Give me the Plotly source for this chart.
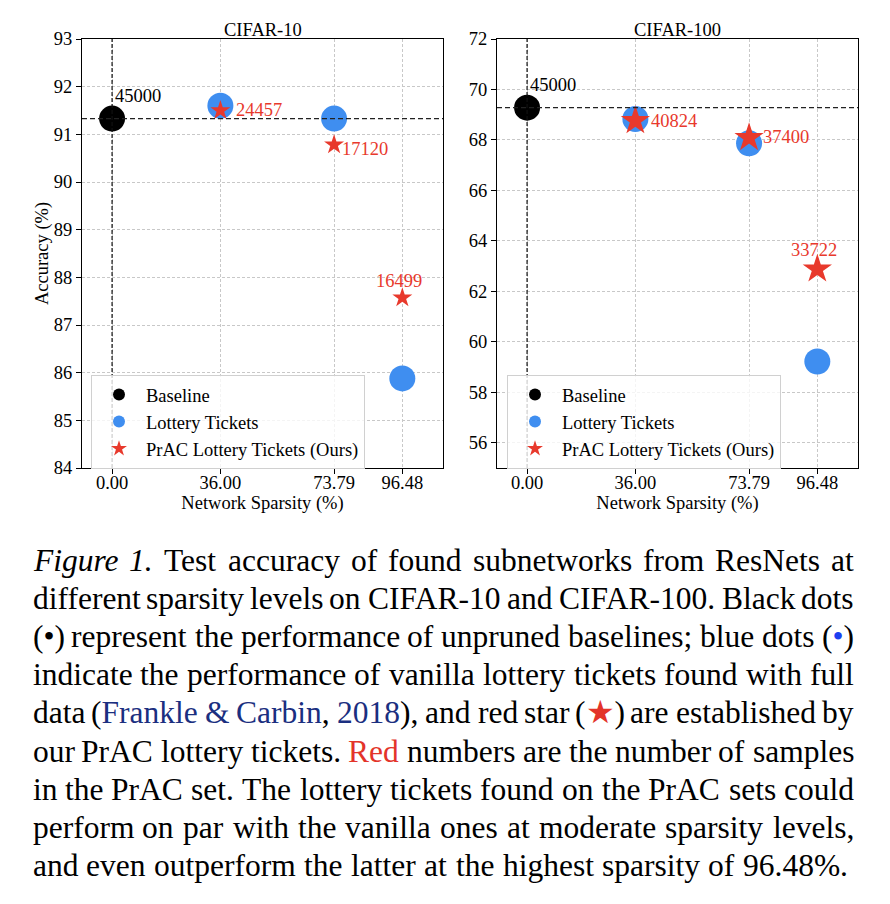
import re
import plotly.graph_objects as go

# ---------------- data ----------------
sparsity = [0.00, 36.00, 73.79, 96.48]
sparsity_labels = ["0.00", "36.00", "73.79", "96.48"]

c10_baseline_acc = 91.33
c10_baseline_samples = 45000
c10_lottery_acc = [91.60, 91.33, 85.88]
c10_prac_acc = [91.50, 90.78, 87.57]
c10_prac_samples = [24457, 17120, 16499]

c100_baseline_acc = 69.28
c100_baseline_samples = 45000
c100_lottery_acc = [68.83, 67.87, 59.22]
c100_prac_acc = [68.76, 68.09, 62.88]
c100_prac_samples = [40824, 37400, 33722]

# ---------------- style ----------------
W, H = 890, 904
FONT = "Liberation Serif"
BLACK = "#000000"
BLUE = "#3f8ef0"
RED = "#e8392c"
GRID = "#c8c8c8"
FS = 18.5

def px_x(p):
    return p / W

def px_y(p):
    return 1 - p / H

panels = [
    dict(name="CIFAR-10", xd=(82, 443), yr=(84, 93), dtick=1, star=15,
         base=c10_baseline_acc, base_n=c10_baseline_samples,
         lot=c10_lottery_acc, prac=c10_prac_acc, prac_n=c10_prac_samples,
         offs=[(14, 1, "left"), (6, -4, "left"), (-3, 17, "center")],
         legend_x=91, ytitle="Accuracy (%)"),
    dict(name="CIFAR-100", xd=(497, 858), yr=(55, 72), dtick=2, star=22,
         base=c100_baseline_acc, base_n=c100_baseline_samples,
         lot=c100_lottery_acc, prac=c100_prac_acc, prac_n=c100_prac_samples,
         offs=[(14, 0, "left"), (12, 1, "left"), (-3, 19, "center")],
         legend_x=507, ytitle=None),
]

fig = go.Figure()
layout = dict(width=W, height=H, margin=dict(l=0, r=0, t=0, b=0),
              paper_bgcolor="white", plot_bgcolor="white",
              font=dict(family=FONT, size=FS, color="black"),
              annotations=[], shapes=[])

for i, p in enumerate(panels):
    sfx = "" if i == 0 else str(i + 1)
    xa, ya = "x" + sfx, "y" + sfx
    leg = "legend" + sfx
    fig.add_trace(go.Scatter(x=[sparsity[0]], y=[p["base"]], mode="markers", name="Baseline",
                             marker=dict(color=BLACK, size=26), xaxis=xa, yaxis=ya, legend=leg))
    fig.add_trace(go.Scatter(x=sparsity[1:], y=p["lot"], mode="markers", name="Lottery Tickets",
                             marker=dict(color=BLUE, size=26), xaxis=xa, yaxis=ya, legend=leg))
    fig.add_trace(go.Scatter(x=sparsity[1:], y=p["prac"], mode="markers",
                             name="PrAC Lottery Tickets (Ours)",
                             marker=dict(color=RED, size=p["star"], symbol="star",
                                         line=dict(width=0)),
                             xaxis=xa, yaxis=ya, legend=leg))
    axis_common = dict(showline=True, linecolor="black", linewidth=1, mirror=True,
                       ticks="outside", ticklen=5, tickcolor="black",
                       showgrid=True, gridcolor=GRID, griddash="3px,2px", gridwidth=1,
                       zeroline=False, tickfont=dict(family=FONT, size=FS),
                       layer="above traces")
    layout["xaxis" + sfx] = dict(axis_common, domain=[px_x(p["xd"][0]), px_x(p["xd"][1])],
                                 range=[-10, 110], tickvals=sparsity, ticktext=sparsity_labels,
                                 anchor=ya, ticklabelstandoff=-7,
                                 title=dict(text="Network Sparsity (%)", standoff=2,
                                            font=dict(family=FONT, size=FS)),
                                 automargin=False)
    yaxis = dict(axis_common, domain=[px_y(468), px_y(39)], range=list(p["yr"]),
                 dtick=p["dtick"], tick0=0, anchor=xa, automargin=False)
    if p["ytitle"]:
        yaxis["title"] = dict(text=p["ytitle"], standoff=0, font=dict(family=FONT, size=FS))
    layout["yaxis" + sfx] = yaxis
    layout[leg] = dict(x=px_x(p["legend_x"]), y=px_y(375), xanchor="left", yanchor="top",
                       bgcolor="rgba(255,255,255,0.8)", bordercolor="#d0d0d0", borderwidth=1,
                       font=dict(family=FONT, size=FS), itemsizing="constant", itemwidth=44,
                       tracegroupgap=0)
    # subplot title
    layout["annotations"].append(dict(text=p["name"], xref="paper", yref="paper",
                                      x=px_x((p["xd"][0] + p["xd"][1]) / 2), y=px_y(30),
                                      xanchor="center", yanchor="middle", showarrow=False,
                                      font=dict(family=FONT, size=FS)))
    # baseline sample count
    layout["annotations"].append(dict(text=str(p["base_n"]), xref=xa, yref=ya,
                                      x=sparsity[0], y=p["base"], xanchor="left",
                                      yanchor="middle", xshift=1, yshift=23, showarrow=False,
                                      font=dict(family=FONT, size=FS, color="black")))
    # PrAC sample counts
    for (sx, ax, nval, (dx, dy, anc)) in zip(sparsity[1:], p["prac"], p["prac_n"], p["offs"]):
        layout["annotations"].append(dict(text=str(nval), xref=xa, yref=ya, x=sx, y=ax,
                                          xanchor=anc, yanchor="middle", xshift=dx, yshift=dy,
                                          showarrow=False,
                                          font=dict(family=FONT, size=FS, color=RED)))
    # dashed baseline reference lines
    layout["shapes"].append(dict(type="line", xref=xa + " domain", yref=ya, x0=0, x1=1,
                                 y0=p["base"], y1=p["base"], layer="above",
                                 line=dict(color="#222222", width=1.2, dash="5px,3px")))
    layout["shapes"].append(dict(type="line", xref=xa, yref=ya + " domain", x0=sparsity[0],
                                 x1=sparsity[0], y0=0, y1=1, layer="above",
                                 line=dict(color="#111111", width=1.2, dash="4px,2px")))

# ---------------- caption ----------------
NAVY = "#1b2f80"
CAP_RED = "#e3342a"
CAP_BLUE = "#1c3ff0"
caption_lines = [
    ["<i>Figure</i>", "<i>1.</i>", "Test", "accuracy", "of", "found", "subnetworks", "from",
     "ResNets", "at"],
    "different sparsity levels on CIFAR-10 and CIFAR-100. Black dots".split(),
    ["(•)", "represent", "the", "performance", "of", "unpruned", "baselines;", "blue", "dots",
     f"(<span style='color:{CAP_BLUE}'>•</span>)"],
    "indicate the performance of vanilla lottery tickets found with full".split(),
    ["data", f"(<span style='color:{NAVY}'>Frankle</span>",
     f"<span style='color:{NAVY}'>&amp;</span>",
     f"<span style='color:{NAVY}'>Carbin</span>,",
     f"<span style='color:{NAVY}'>2018</span>),", "and", "red", "star",
     f"(<span style='color:{CAP_RED}'>★</span>)", "are", "established", "by"],
    ["our", "PrAC", "lottery", "tickets.", f"<span style='color:{CAP_RED}'>Red</span>",
     "numbers", "are", "the", "number", "of", "samples"],
    "in the PrAC set. The lottery tickets found on the PrAC sets could".split(),
    "perform on par with the vanilla ones at moderate sparsity levels,".split(),
    "and even outperform the latter at the highest sparsity of 96.48%.".split(),
]

ROMAN = {" ": 250, "(": 333, ")": 333, ",": 250, "-": 333, ".": 250, ";": 278, "&": 778,
         "%": 833, "•": 350, "★": 800,
         "A": 722, "B": 667, "C": 667, "F": 556, "I": 333, "N": 722, "P": 556, "R": 667,
         "T": 611, "S": 556, "L": 611, "O": 722,
         "a": 444, "b": 500, "c": 444, "d": 500, "e": 444, "f": 333, "g": 500, "h": 500,
         "i": 278, "j": 278, "k": 500, "l": 278, "m": 778, "n": 500, "o": 500, "p": 500,
         "q": 500, "r": 333, "s": 389, "t": 278, "u": 500, "v": 500, "w": 722, "x": 500,
         "y": 500, "z": 444}
ITALIC = {"F": 611, "i": 278, "g": 500, "u": 500, "r": 389, "e": 444, ".": 250}

CFS = 31.5
LEFT, RIGHT = 32, 854
TOP, STEP = 560, 38.2

def word_width(w):
    it = w.startswith("<i>")
    plain = re.sub(r"<[^>]+>", "", w).replace("&amp;", "&")
    tot = 0
    for ch in plain:
        if ch.isdigit():
            tot += 500
        elif it and ch in ITALIC:
            tot += ITALIC[ch]
        else:
            tot += ROMAN.get(ch, 500)
    return tot * CFS / 1000.0

for li, words in enumerate(caption_lines):
    widths = [word_width(w) for w in words]
    last = li == len(caption_lines) - 1
    if last:
        gap = 270 * CFS / 1000.0
    else:
        gap = (RIGHT - LEFT - sum(widths)) / (len(words) - 1)
    x = LEFT
    yc = TOP + STEP * li
    for wi, (w, wd) in enumerate(zip(words, widths)):
        if wi == 0:
            ax, anc = x, "left"
        else:
            ax, anc = x + wd / 2, "center"
        layout["annotations"].append(dict(text=w, xref="paper", yref="paper",
                                          x=px_x(ax), y=px_y(yc), xanchor=anc,
                                          yanchor="middle", showarrow=False, borderpad=0,
                                          font=dict(family=FONT, size=CFS, color="black")))
        x += wd + gap

fig.update_layout(**layout)
fig.write_html("out.html", config={"displayModeBar": False},
               post_script="document.body.style.margin='0px';document.body.style.padding='0px';")
